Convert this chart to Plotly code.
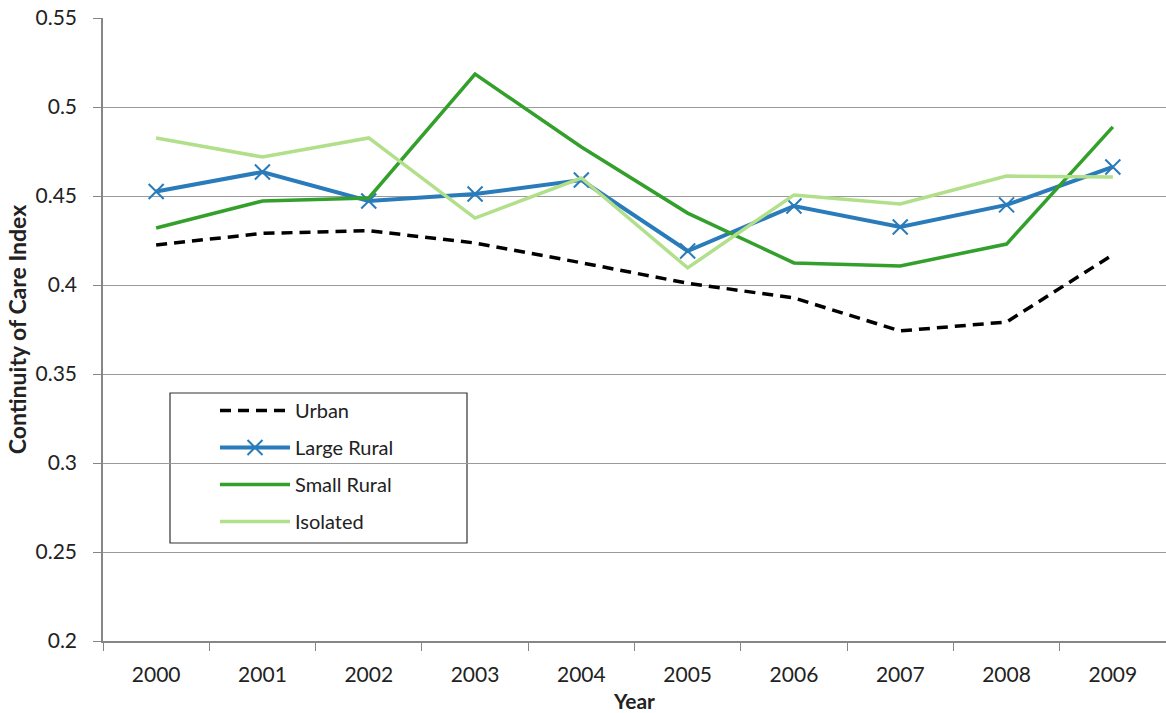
import plotly.graph_objects as go

years = ["2000", "2001", "2002", "2003", "2004", "2005", "2006", "2007", "2008", "2009"]
urban = [0.4225, 0.4290, 0.4305, 0.4236, 0.4125, 0.4010, 0.3927, 0.3742, 0.3792, 0.4170]
large_rural = [0.4525, 0.4635, 0.4472, 0.4511, 0.4590, 0.4191, 0.4444, 0.4326, 0.4450, 0.4663]
small_rural = [0.4320, 0.4472, 0.4489, 0.5185, 0.4775, 0.4404, 0.4124, 0.4107, 0.4230, 0.4888]
isolated = [0.4826, 0.4719, 0.4826, 0.4376, 0.4601, 0.4096, 0.4506, 0.4455, 0.4612, 0.4607]
y_ticks = [0.2, 0.25, 0.3, 0.35, 0.4, 0.45, 0.5, 0.55]
y_tick_text = ["0.2", "0.25", "0.3", "0.35", "0.4", "0.45", "0.5", "0.55"]

FONT = "Lato"

fig = go.Figure()
fig.add_trace(go.Scatter(x=years, y=urban, name="Urban", mode="lines", legendgroup="a",
                         line=dict(color="#000000", width=3.5, dash="11px,7px")))
fig.add_trace(go.Scatter(x=years, y=large_rural, name="Large Rural", mode="lines+markers", legendgroup="b",
                         line=dict(color="#2A7BBA", width=4),
                         marker=dict(symbol="x-thin", size=15, line=dict(color="#2A7BBA", width=2))))
fig.add_trace(go.Scatter(x=years, y=small_rural, name="Small Rural", mode="lines", legendgroup="c",
                         line=dict(color="#33A02C", width=3.5)))
fig.add_trace(go.Scatter(x=years, y=isolated, name="Isolated", mode="lines", legendgroup="d",
                         line=dict(color="#B2DF8A", width=3.5)))

# legend frame (white box interrupting gridlines)
fig.add_shape(type="rect", xref="paper", yref="paper",
              x0=(170 - 103) / 1063, x1=(467 - 103) / 1063,
              y0=(641 - 543) / 623, y1=(641 - 393) / 623,
              line=dict(color="#333333", width=1.2), fillcolor="white", layer="between")

fig.update_layout(
    width=1166, height=713,
    margin=dict(l=103, r=0, t=18, b=72),
    plot_bgcolor="white", paper_bgcolor="white",
    font=dict(family=FONT, size=21, color="#222222"),
    legend=dict(x=(215 - 103) / 1063, y=(641 - 391) / 623, xanchor="left", yanchor="top",
                borderwidth=0, bgcolor="rgba(0,0,0,0)",
                font=dict(size=20), traceorder="grouped", tracegroupgap=8,
                itemwidth=70),
    xaxis=dict(type="category", range=[-0.5, 9.5], tickson="boundaries",
               ticks="outside", ticklen=8, tickcolor="#868686",
               showline=True, linecolor="#868686", linewidth=1.5,
               showgrid=False, tickfont=dict(size=21), ticklabelstandoff=14,
               title=dict(text="<b>Year</b>", font=dict(size=21), standoff=9)),
    yaxis=dict(range=[0.2, 0.55], tickvals=y_ticks, ticktext=y_tick_text,
               ticks="outside", ticklen=8, tickcolor="#868686",
               showline=True, linecolor="#868686", linewidth=1.5,
               showgrid=True, gridcolor="#9A9A9A", gridwidth=1,
               tickfont=dict(size=21), ticklabelstandoff=12,
               title=dict(text="<b>Continuity of Care Index</b>", font=dict(size=23), standoff=2)),
)

fig.write_html("out.html")
